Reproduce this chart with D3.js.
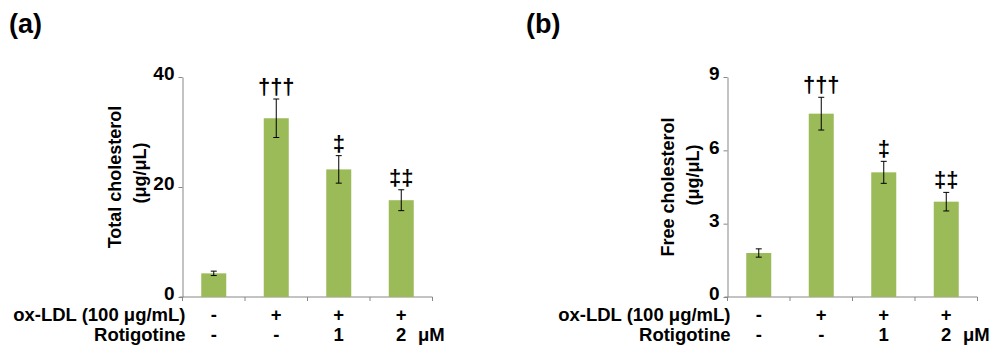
<html>
<head>
  <meta charset="utf-8">
  <style>
    body { margin: 0; background: #fff; }
    svg text { font-family: "Liberation Sans", Arial, sans-serif; font-weight: bold; fill: #000; }
  </style>
</head>
<body>
  <div id="elm"></div>
  <script src="https://d3js.org/d3.v7.min.js"></script>
  <script>
  'use strict';

  // data
  var groups = ['ctrl', 'oxldl', 'rot1', 'rot2'];
  var oxLDL = ['-', '+', '+', '+'];
  var rotigotine = ['-', '-', '1', '2'];
  var rotUnit = 'μM';
  var sigMarks = ['', '†††', '‡', '‡‡'];

  var totalMean = [4.3, 32.5, 23.2, 17.6];
  var totalErr = [0.4, 3.5, 2.5, 1.9];
  var totalTicks = [0, 20, 40];

  var freeMean = [1.8, 7.5, 5.1, 3.9];
  var freeErr = [0.17, 0.67, 0.45, 0.38];
  var freeTicks = [0, 3, 6, 9];

  var W = 996, H = 345;
  var svg = d3.select('#elm').append('svg').attr('width', W).attr('height', H);

  function panel(o) {
    var g = svg.append('g');
    var x = d3.scaleBand().domain(groups).range([o.left, o.left + 250]).paddingInner(0.6).paddingOuter(0.3);
    var y = d3.scaleLinear().domain([0, o.ticks[o.ticks.length - 1]]).range([297, 77]);
    var cx = function(d) { return x(d) + x.bandwidth() / 2; };

    g.append('text').attr('x', o.tagX).attr('y', 33).style('font-size', '27px').text(o.tag);

    // y axis
    var ya = g.append('g').attr('transform', 'translate(' + o.left + ',0)')
      .call(d3.axisLeft(y).tickValues(o.ticks).tickSize(4).tickSizeOuter(0).tickPadding(4));
    ya.select('.domain').attr('stroke', '#878787');
    ya.selectAll('.tick line').attr('stroke', '#878787');
    ya.selectAll('.tick text').attr('font-family', null).attr('dy', '0.15em')
      .style('font-size', '19px').attr('fill', '#000');

    // x axis with ticks on category boundaries
    var xa = g.append('g');
    xa.append('line').attr('x1', o.left - 3).attr('x2', o.left + 250)
      .attr('y1', y(0)).attr('y2', y(0)).attr('stroke', '#878787');
    xa.selectAll('line.b').data(d3.range(groups.length + 1)).join('line').attr('class', 'b')
      .attr('x1', function(i) { return o.left + i * 62.5; })
      .attr('x2', function(i) { return o.left + i * 62.5; })
      .attr('y1', y(0)).attr('y2', y(0) + 4).attr('stroke', '#878787');

    // bars
    g.selectAll('rect.bar').data(groups).join('rect').attr('class', 'bar')
      .attr('x', function(d) { return x(d); })
      .attr('width', x.bandwidth())
      .attr('y', function(d, i) { return y(o.mean[i]); })
      .attr('height', function(d, i) { return y(0) - y(o.mean[i]); })
      .attr('fill', '#9bbb59');

    // error bars
    var eb = g.selectAll('g.err').data(groups).join('g').attr('class', 'err')
      .attr('stroke', '#000').attr('stroke-width', 1);
    eb.append('line')
      .attr('x1', cx).attr('x2', cx)
      .attr('y1', function(d, i) { return y(o.mean[i] + o.err[i]); })
      .attr('y2', function(d, i) { return y(o.mean[i] - o.err[i]); });
    [1, -1].forEach(function(s) {
      eb.append('line')
        .attr('x1', function(d) { return cx(d) - 3; })
        .attr('x2', function(d) { return cx(d) + 3; })
        .attr('y1', function(d, i) { return y(o.mean[i] + s * o.err[i]); })
        .attr('y2', function(d, i) { return y(o.mean[i] + s * o.err[i]); });
    });

    // significance marks
    g.selectAll('text.sig').data(groups).join('text').attr('class', 'sig')
      .attr('x', cx)
      .attr('y', function(d, i) { return y(o.mean[i] + o.err[i]) - 5; })
      .attr('text-anchor', 'middle').style('font-size', '22px')
      .text(function(d, i) { return sigMarks[i]; });

    // y title
    o.title.forEach(function(t, i) {
      g.append('text')
        .attr('transform', 'translate(' + o.titleX[i] + ',' + o.titleY[i] + ') rotate(-90)')
        .attr('text-anchor', 'middle').attr('dominant-baseline', 'central')
        .style('font-size', '18px').text(t);
    });

    // treatment rows
    g.append('text').attr('x', o.left + 3).attr('y', 321).attr('text-anchor', 'end')
      .style('font-size', '18.5px').text('ox-LDL (100 μg/mL)');
    g.append('text').attr('x', o.left + 3).attr('y', 341).attr('text-anchor', 'end')
      .style('font-size', '18.5px').text('Rotigotine');
    g.selectAll('text.ox').data(groups).join('text').attr('class', 'ox')
      .attr('x', cx).attr('y', 321).attr('text-anchor', 'middle').style('font-size', '18.5px')
      .text(function(d, i) { return oxLDL[i]; });
    g.selectAll('text.rot').data(groups).join('text').attr('class', 'rot')
      .attr('x', cx).attr('y', 341).attr('text-anchor', 'middle').style('font-size', '18.5px')
      .text(function(d, i) { return rotigotine[i]; });
    g.append('text').attr('x', cx(groups[groups.length - 1]) + 30).attr('y', 341)
      .attr('text-anchor', 'middle').style('font-size', '18.5px').text(rotUnit);
  }

  panel({ tag: '(a)', tagX: 9, left: 182.5, ticks: totalTicks, mean: totalMean, err: totalErr,
          title: ['Total cholesterol', '(μg/μL)'], titleX: [115, 140], titleY: [177, 173] });
  panel({ tag: '(b)', tagX: 526, left: 727.5, ticks: freeTicks, mean: freeMean, err: freeErr,
          title: ['Free cholesterol', '(μg/μL)'], titleX: [668, 693], titleY: [187, 175] });
  </script>
</body>
</html>
